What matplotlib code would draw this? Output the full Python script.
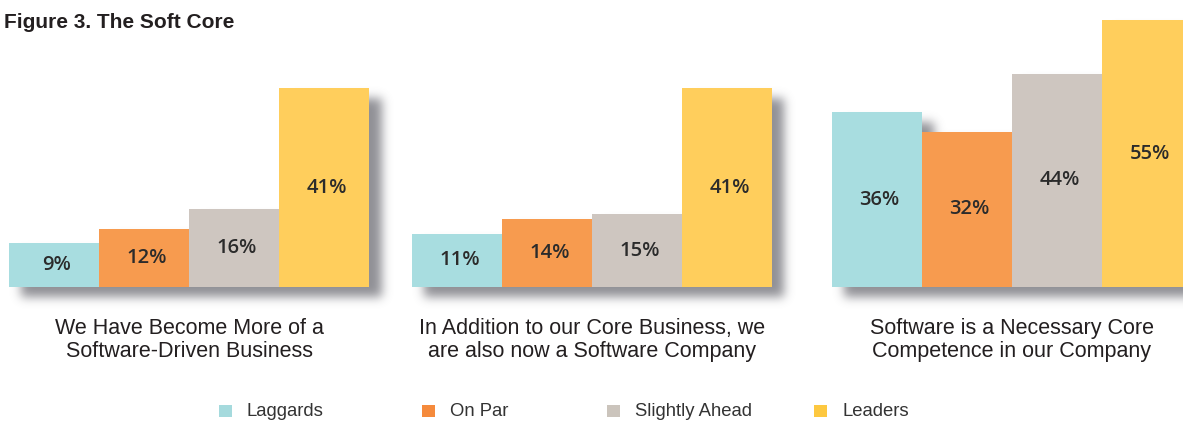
import numpy as np
import matplotlib.pyplot as plt
from matplotlib.patches import Rectangle

# data
series = ['Laggards', 'On Par', 'Slightly Ahead', 'Leaders']
questions = ['We Have Become More of a\nSoftware-Driven Business',
             'In Addition to our Core Business, we\nare also now a Software Company',
             'Software is a Necessary Core\nCompetence in our Company']
laggards = [9, 11, 36]
on_par = [12, 14, 32]
slightly_ahead = [16, 15, 44]
leaders = [41, 41, 55]

colors = ['#A8DDE0', '#F79B4F', '#CEC6C0', '#FFCE5C']
legend_colors = ['#A5DADD', '#F58A3C', '#CBC4BC', '#FDC840']

W, H = 1183, 422
fig = plt.figure(figsize=(W / 100, H / 100), dpi=100)

# layout in pixels
px_bar = 90.0      # px per bar
px_pct = 4.85      # px per percent
base_y = 287
lefts = [9, 412, 832]
xlim = (-0.5, 3.9)
ylim = (-4.5, 58.5)


def blur(m, sigma):
    r = int(3 * sigma)
    t = np.arange(-r, r + 1)
    k = np.exp(-t ** 2 / (2 * sigma ** 2))
    k /= k.sum()
    m = np.apply_along_axis(lambda a: np.convolve(a, k, mode='same'), 1, m)
    m = np.apply_along_axis(lambda a: np.convolve(a, k, mode='same'), 0, m)
    return m


for p in range(3):
    vals = [laggards[p], on_par[p], slightly_ahead[p], leaders[p]]
    wpx = (xlim[1] - xlim[0]) * px_bar
    hpx = (ylim[1] - ylim[0]) * px_pct
    top_px = base_y - ylim[1] * px_pct
    ax = fig.add_axes([lefts[p] / W, 1 - (top_px + hpx) / H, wpx / W, hpx / H])
    ax.set_xlim(*xlim)
    ax.set_ylim(*ylim)
    ax.axis('off')

    x = np.arange(4)
    ax.bar(x, vals, width=1.0, color=colors, zorder=2, linewidth=0)

    # drop shadow of the bar group
    nx, ny = int(wpx), int(hpx)
    xs = np.linspace(xlim[0], xlim[1], nx)
    ys = np.linspace(ylim[0], ylim[1], ny)
    gx, gy = np.meshgrid(xs, ys)
    dx, dy = 12 / px_bar, 10 / px_pct
    mask = np.zeros_like(gx)
    for i, v in enumerate(vals):
        inside = (gx - dx >= i - 0.5) & (gx - dx <= i + 0.5) & (gy + dy >= 0) & (gy + dy <= v)
        mask[inside] = 1.0
    mask = blur(mask, 5)
    img = np.zeros((ny, nx, 4))
    img[..., 0] = 0.38
    img[..., 1] = 0.38
    img[..., 2] = 0.41
    img[..., 3] = mask * 0.7
    ax.imshow(img, extent=(xs[0], xs[-1], ys[0], ys[-1]), origin='lower',
              aspect='auto', zorder=1, interpolation='bilinear')

    for i, v in enumerate(vals):
        ax.text(i + 0.03, v / 2, f'{v}%', ha='center', va='center', fontsize=14.5,
                color='#2b2b2b', fontweight='semibold', family=['Open Sans', 'DejaVu Sans'])

    cx = lefts[p] + 2 * px_bar
    fig.text(cx / W, 1 - 340 / H, questions[p], ha='center', va='center', fontsize=15.5,
             color='#231f20', linespacing=1.1, family='Liberation Sans')

fig.text(4 / W, 1 - 22 / H, 'Figure 3. The Soft Core', ha='left', va='center',
         fontsize=15, fontweight='bold', color='#231f20', family='Liberation Sans')

# legend
marker_x = [219, 422, 607, 814]
for mx, lab, c in zip(marker_x, series, legend_colors):
    fig.patches.append(Rectangle((mx / W, 1 - 417 / H), 13 / W, 12 / H,
                                 transform=fig.transFigure, color=c, linewidth=0))
    fig.text((mx + 28) / W, 1 - 411 / H, lab, ha='left', va='center', fontsize=13.3,
             color='#333333', family='Liberation Sans')

fig.savefig('out.png', dpi=100)
